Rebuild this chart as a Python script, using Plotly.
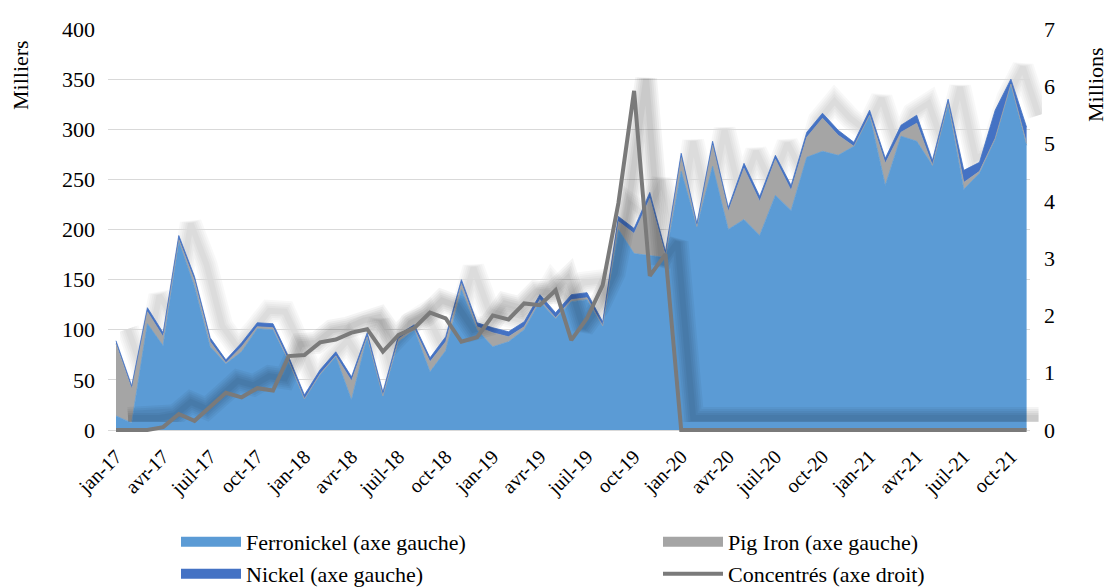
import plotly.graph_objects as go

# Monthly categories, Jan 2017 - Nov 2021
month_abbr = ["jan", "févr", "mars", "avr", "mai", "juin",
              "juil", "août", "sept", "oct", "nov", "déc"]
months = [f"{m}-{y}" for y in ("17", "18", "19", "20", "21") for m in month_abbr][:59]

# Imports, thousands of tonnes (left axis)
ferronickel = [14, 7, 106, 84, 188, 143, 83, 66, 78, 101, 100, 68,
               31, 55, 73, 30, 93, 34, 88, 100, 58, 79, 140, 100,
               83, 88, 100, 128, 111, 128, 130, 104, 200, 176, 174, 172,
               258, 203, 263, 200, 210, 194, 234, 219, 272, 278, 274, 283,
               314, 244, 293, 288, 264, 326, 240, 256, 290, 345, 284]
pig_iron = [72, 34, 12, 9, 2, 6, 5, 1, 5, 2, 2, 1,
            0, 1, 1, 19, 0, 0, 3, 1, 10, 9, 6, 3,
            14, 5, 3, 2, 1, 2, 2, 0, 8, 20, 57, 2,
            14, 0, 21, 18, 51, 34, 36, 20, 20, 33, 20, 0,
            0, 22, 4, 18, 0, 0, 7, 2, 1, 0, 2]
nickel = [3, 3, 4, 4, 4, 4, 4, 3, 4, 4, 4, 4,
          4, 4, 4, 4, 4, 4, 4, 4, 4, 5, 4, 4,
          5, 5, 5, 5, 5, 5, 5, 4, 5, 5, 6, 4,
          4, 3, 4, 4, 5, 5, 4, 5, 5, 5, 5, 4,
          5, 5, 7, 8, 5, 4, 12, 9, 28, 5, 16]

# Concentrates, millions of tonnes (right axis)
concentres = [0, 0, 0, 0.05, 0.28, 0.16, 0.40, 0.65, 0.57, 0.73, 0.69, 1.29,
              1.31, 1.53, 1.58, 1.70, 1.76, 1.37, 1.66, 1.78, 2.05, 1.95, 1.54, 1.62,
              2.00, 1.93, 2.21, 2.18, 2.44, 1.57, 1.95, 2.53, 3.96, 5.92, 2.69, 3.07,
              0, 0, 0, 0, 0, 0, 0, 0, 0, 0, 0, 0,
              0, 0, 0, 0, 0, 0, 0, 0, 0, 0, 0]

tick_step = 3
left_ticks = [0, 50, 100, 150, 200, 250, 300, 350, 400]
right_ticks = [0, 1, 2, 3, 4, 5, 6, 7]
LEFT_MAX, RIGHT_MAX = 400, 7

FONT = "Liberation Serif"
COL_FERRO, COL_PIG, COL_NICKEL, COL_CONC = "#5B9BD5", "#A5A5A5", "#4472C4", "#7A7A7A"

# ---- page geometry (pixels) ----
W, H = 1107, 588
PL, PR = 108, 1030          # plot area left / right
PT, PZ = 29, 430            # top gridline / zero line
PB = 434                    # plot area bottom (a little room under the zero line)
SX, SY = 12, 12             # drop-shadow offset: right and up
pw = PR + SX - PL
ph = PB - (PT - SY)

def px_x(px):
    return (px - PL) / pw

def px_y(py):
    return (PB - py) / ph

main_xdom = [0, (PR - PL) / pw]
shad_xdom = [SX / pw, 1]
main_ydom = [0, (PB - PT) / ph]
shad_ydom = [SY / ph, 1]

n = len(months)
x = list(range(n))
x_first_px, x_last_px = 116, 1026.6
month_px = (x_last_px - x_first_px) / (n - 1)
x_range = [-(x_first_px - PL) / month_px, (n - 1) + (PR - x_last_px) / month_px]
left_range = [-(PB - PZ) * LEFT_MAX / (PZ - PT), LEFT_MAX]
right_range = [-(PB - PZ) * RIGHT_MAX / (PZ - PT), RIGHT_MAX]

total = [f + p + k for f, p, k in zip(ferronickel, pig_iron, nickel)]

fig = go.Figure()

# 1) soft shadow of the stacked area (drawn underneath)
for w in (22, 18, 14, 10, 6):
    fig.add_trace(go.Scatter(
        x=x, y=total, xaxis="x", yaxis="y", mode="lines",
        line=dict(color="rgba(0,0,0,0.028)", width=w), showlegend=False,
        hoverinfo="skip",
    ))

# 2) stacked areas
stack = [
    ("Ferronickel (axe gauche)", ferronickel, COL_FERRO, "legend"),
    ("Pig Iron (axe gauche)", pig_iron, COL_PIG, "legend2"),
    ("Nickel (axe gauche)", nickel, COL_NICKEL, "legend3"),
]
for name, vals, col, lg in stack:
    fig.add_trace(go.Scatter(
        x=x, y=vals, name=name, xaxis="x2", yaxis="y2", mode="lines",
        stackgroup="imports", line=dict(color=col, width=0.8), fillcolor=col,
        showlegend=False, hoverinfo="skip",
    ))
    # legend swatch
    fig.add_trace(go.Scatter(
        x=[None], y=[None], name=name, xaxis="x2", yaxis="y2", mode="lines",
        line=dict(color=col, width=14), legend=lg, hoverinfo="skip",
    ))

# 3) shadow of the concentrates line (over the areas)
for w in (22, 18, 14, 10, 6):
    fig.add_trace(go.Scatter(
        x=x, y=concentres, xaxis="x3", yaxis="y3", mode="lines",
        line=dict(color="rgba(0,0,0,0.045)", width=w), showlegend=False,
        hoverinfo="skip",
    ))

# 4) concentrates line
fig.add_trace(go.Scatter(
    x=x, y=concentres, name="Concentrés (axe droit)", xaxis="x4", yaxis="y4",
    mode="lines", line=dict(color=COL_CONC, width=4), legend="legend4",
    hoverinfo="skip",
))

hidden = dict(visible=False, showgrid=False, zeroline=False)

def legend_at(left_px, center_py):
    return dict(
        x=px_x(left_px), y=px_y(center_py), xanchor="left", yanchor="middle",
        itemwidth=60, font=dict(size=22, family=FONT, color="black"),
        bgcolor="rgba(0,0,0,0)", borderwidth=0,
    )

fig.update_layout(
    width=W, height=H,
    margin=dict(l=PL, r=W - (PR + SX), t=PT - SY, b=H - PB, autoexpand=False),
    paper_bgcolor="white", plot_bgcolor="rgba(0,0,0,0)",
    font=dict(family=FONT, color="black"),
    showlegend=True,
    legend=legend_at(176, 542),
    legend2=legend_at(658, 542),
    legend3=legend_at(176, 574),
    legend4=legend_at(658, 574),
    # shadow axes
    xaxis=dict(domain=shad_xdom, range=x_range, anchor="y", **hidden),
    yaxis=dict(domain=shad_ydom, range=left_range, anchor="x", **hidden),
    xaxis3=dict(domain=shad_xdom, range=x_range, anchor="y3", **hidden),
    yaxis3=dict(domain=shad_ydom, range=right_range, anchor="x3", **hidden),
    # main axes
    xaxis2=dict(
        domain=main_xdom, range=x_range, anchor="y2",
        tickvals=x[::tick_step], ticktext=months[::tick_step],
        tickangle=-45, tickfont=dict(size=20, family=FONT),
        showgrid=False, zeroline=False, showline=False,
        ticks="", ticklabelstandoff=6,
    ),
    yaxis2=dict(
        domain=main_ydom, range=left_range, anchor="x2",
        tickvals=left_ticks, gridcolor="#D9D9D9", gridwidth=1.3,
        tickfont=dict(size=22, family=FONT),
        zeroline=False, showline=False, ticks="", ticklabelstandoff=12,
    ),
    xaxis4=dict(domain=main_xdom, range=x_range, anchor="y4", **hidden),
    yaxis4=dict(
        domain=main_ydom, range=right_range, anchor="x4", side="right",
        tickvals=right_ticks, showgrid=False, zeroline=False, showline=False,
        ticks="", tickfont=dict(size=22, family=FONT), ticklabelstandoff=13,
    ),
    annotations=[
        dict(text="Milliers", xref="paper", yref="paper",
             x=px_x(20), y=px_y(75), xanchor="center", yanchor="middle",
             textangle=-90, showarrow=False, font=dict(size=22, family=FONT)),
        dict(text="Millions", xref="paper", yref="paper",
             x=px_x(1095), y=px_y(85), xanchor="center", yanchor="middle",
             textangle=-90, showarrow=False, font=dict(size=22, family=FONT)),
    ],
)

fig.write_html("out.html")
